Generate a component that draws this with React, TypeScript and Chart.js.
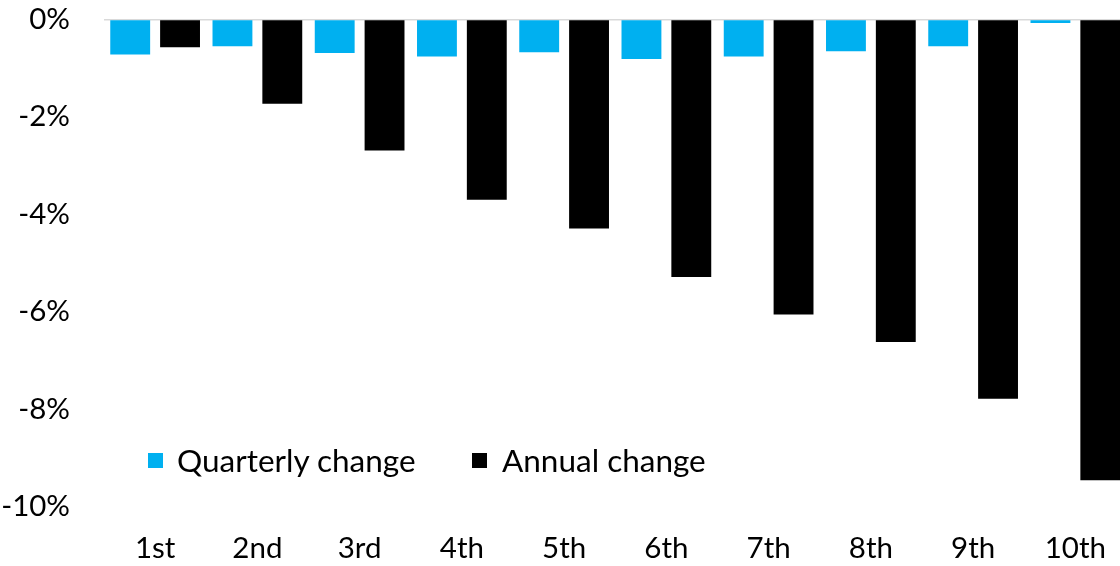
import React, { useEffect, useRef } from "react";
import { Chart, registerables } from "chart.js";

Chart.register(...registerables);

const categories = ["1st", "2nd", "3rd", "4th", "5th", "6th", "7th", "8th", "9th", "10th"];
const quarterlyChange = [-0.72, -0.55, -0.69, -0.76, -0.67, -0.81, -0.76, -0.65, -0.55, -0.07];
const annualChange = [-0.57, -1.73, -2.69, -3.70, -4.29, -5.29, -6.06, -6.62, -7.79, -9.46];
const yTicks = [0, -2, -4, -6, -8, -10];

const seriesNames = ["Quarterly change", "Annual change"];
const seriesColors = ["#00B0F0", "#000000"];

const FONT = "Lato, 'Open Sans', sans-serif";

export default function App() {
  const canvasRef = useRef<HTMLCanvasElement | null>(null);

  useEffect(() => {
    if (!canvasRef.current) return;
    const chart = new Chart(canvasRef.current, {
      type: "bar",
      data: {
        labels: categories,
        datasets: [
          {
            label: seriesNames[0],
            data: quarterlyChange,
            backgroundColor: seriesColors[0],
            borderWidth: 0,
            categoryPercentage: 0.975,
            barPercentage: 0.8,
          },
          {
            label: seriesNames[1],
            data: annualChange,
            backgroundColor: seriesColors[1],
            borderWidth: 0,
            categoryPercentage: 0.975,
            barPercentage: 0.8,
          },
        ],
      },
      options: {
        animation: false,
        responsive: true,
        maintainAspectRatio: false,
        layout: { padding: { top: 19.5, right: 0, left: 0, bottom: 0 } },
        plugins: {
          legend: { display: false },
          tooltip: { enabled: false },
        },
        scales: {
          x: {
            grid: { display: false, drawTicks: false },
            border: { display: false },
            ticks: {
              color: "#000",
              font: { family: FONT, size: 29.5 },
              padding: 24,
              maxRotation: 0,
            },
            afterFit: (scale: any) => {
              scale.height = 59.5;
            },
          },
          y: {
            min: -10,
            max: 0,
            afterBuildTicks: (scale: any) => {
              scale.ticks = yTicks.map((v) => ({ value: v }));
            },
            grid: {
              drawTicks: false,
              color: (ctx: any) => (ctx.tick && ctx.tick.value === 0 ? "#d9d9d9" : "rgba(0,0,0,0)"),
              lineWidth: 1.5,
            },
            border: { display: false },
            ticks: {
              color: "#000",
              font: { family: FONT, size: 29.5 },
              padding: 34,
              callback: (v: any) => `${v}%`,
            },
            afterFit: (scale: any) => {
              scale.width = 104;
              scale.paddingTop = 0;
            },
          },
        },
      },
    });
    return () => chart.destroy();
  }, []);

  return (
    <div
      style={{
        position: "absolute",
        left: 0,
        top: 0,
        width: 1120,
        height: 566,
        overflow: "hidden",
        background: "#fff",
      }}
    >
      <div style={{ position: "relative", width: 1130, height: 566 }}>
        <canvas ref={canvasRef} />
      </div>
      <div
        style={{
          position: "absolute",
          left: 148,
          top: 440,
          display: "flex",
          alignItems: "center",
          fontFamily: FONT,
          fontSize: 31.5,
          color: "#000",
          lineHeight: "40px",
        }}
      >
        <span style={{ display: "inline-block", width: 15, height: 15, background: seriesColors[0], marginRight: 14 }} />
        <span style={{ width: 295 }}>{seriesNames[0]}</span>
        <span style={{ display: "inline-block", width: 15, height: 15, background: seriesColors[1], marginRight: 15 }} />
        <span>{seriesNames[1]}</span>
      </div>
    </div>
  );
}
